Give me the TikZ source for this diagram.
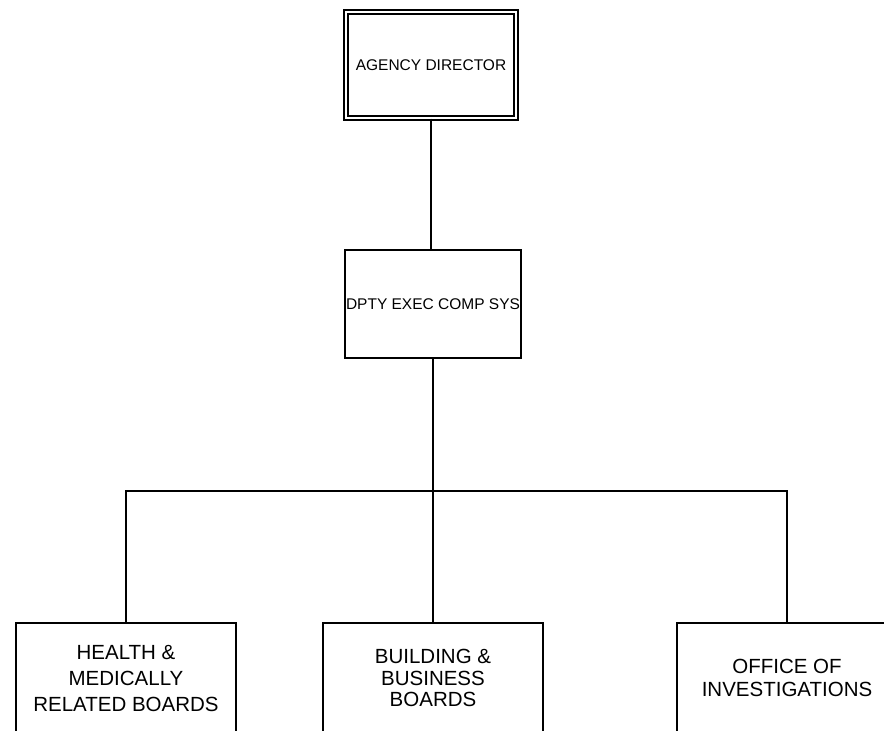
\documentclass[tikz,border=0pt]{standalone}
\usepackage{fontspec}
\setmainfont{Liberation Sans}
\begin{document}
\begin{tikzpicture}[x=1pt,y=-1pt,
  link/.style={line width=1.6pt},
  unit/.style={draw, line width=1.6pt, inner sep=0pt, align=center},
  topunit/.style={unit, double, double distance=2.6pt, line width=1.3pt,
    minimum width=170pt, minimum height=106pt, font=\fontsize{15.5}{18}\selectfont},
  midunit/.style={unit, minimum width=176pt, minimum height=108pt,
    font=\fontsize{15.5}{18}\selectfont},
  board/.style={unit, minimum width=220pt, minimum height=110pt,
    font=\fontsize{20.5}{24}\selectfont}]
\useasboundingbox (0,0) rectangle (884,731);
\clip (0,0) rectangle (884,731);
\fill[white] (0,0) rectangle (884,731);

% chain of command
\node[topunit] (dir) at (431,65) {AGENCY DIRECTOR};
\node[midunit] (dpty) at (433,304) {DPTY EXEC COMP SYS};

% boards and offices reporting to the deputy
\node[board, font=\fontsize{20.5}{26}\selectfont] (hmb) at (126,678) {HEALTH \&\\MEDICALLY\\RELATED BOARDS};
\node[board, font=\fontsize{20.5}{21.5}\selectfont] (bbb) at (433,678) {BUILDING \&\\BUSINESS\\BOARDS};
\node[board, font=\fontsize{20.5}{22.5}\selectfont] (oi) at (787,678) {OFFICE OF\\INVESTIGATIONS};

% connectors
\coordinate (bus) at (dpty.south |- 0,491);
\draw[link] (dir.south) -- (dir.south |- dpty.north);
\draw[link] (dpty.south) -- (bus);
\draw[link] (bus) -| (hmb.north);
\draw[link] (bus) -- (bbb.north);
\draw[link] (bus) -| (oi.north);
\end{tikzpicture}
\end{document}
